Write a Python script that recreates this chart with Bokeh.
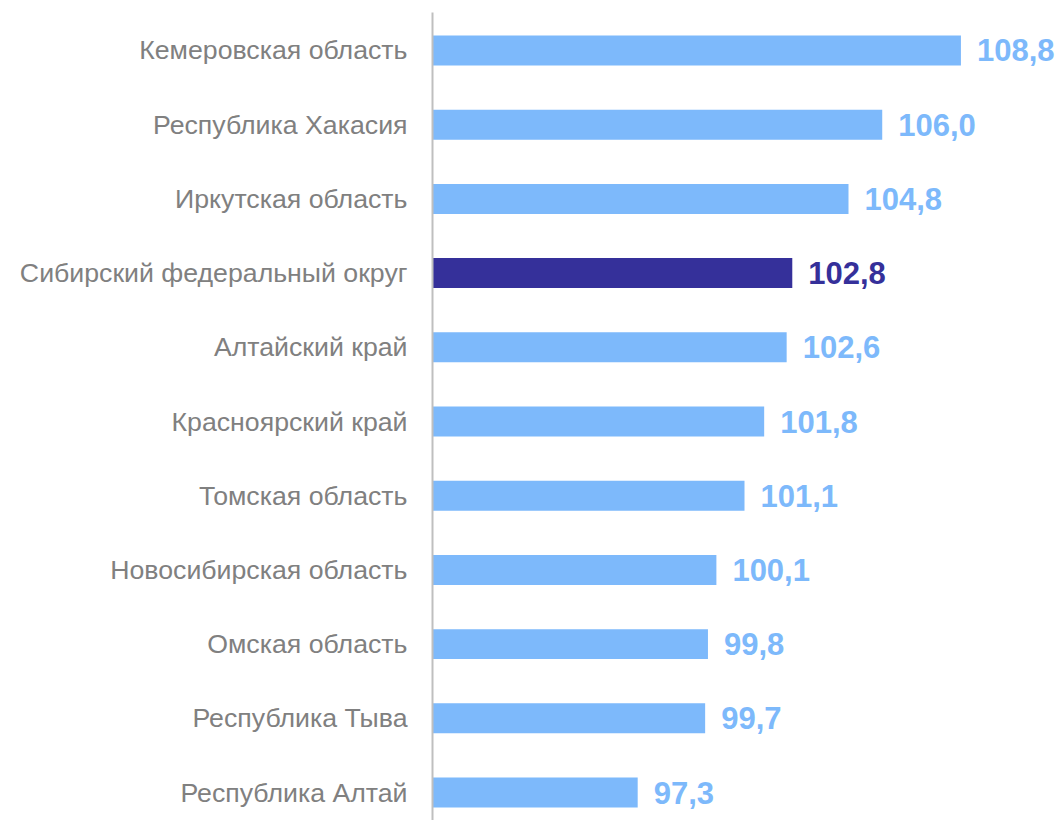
from bokeh.plotting import figure
from bokeh.models import ColumnDataSource, Range1d, FixedTicker
from bokeh.core.properties import value
from bokeh.embed import file_html
from bokeh.resources import INLINE

regions = [
    "Кемеровская область",
    "Республика Хакасия",
    "Иркутская область",
    "Сибирский федеральный округ",
    "Алтайский край",
    "Красноярский край",
    "Томская область",
    "Новосибирская область",
    "Омская область",
    "Республика Тыва",
    "Республика Алтай",
]
values = [108.8, 106.0, 104.8, 102.8, 102.6, 101.8, 101.1, 100.1, 99.8, 99.7, 97.3]
highlight = "Сибирский федеральный округ"

LIGHT = "#7DB9FB"
DARK = "#35309A"
BASE = 90

pos = list(range(len(regions)))
colors = [DARK if r == highlight else LIGHT for r in regions]
labels = [f"{v:.1f}".replace(".", ",") for v in values]
src = ColumnDataSource(dict(y=pos, v=values, c=colors, t=labels))

p = figure(width=1056, height=820, output_backend="svg", toolbar_location=None,
           x_range=Range1d(BASE, 112.2), y_range=Range1d(10.377, -0.512),
           min_border_left=432, min_border_right=0, min_border_top=12, min_border_bottom=0)

p.hbar(y="y", left=BASE, right="v", height=0.404, fill_color="c", line_color=None, source=src)
p.text(x="v", y="y", text="t", x_offset=16, text_color="c",
       text_font=value("Liberation Sans"), text_font_size="31px", text_font_style="bold",
       text_baseline="middle", text_align="left", source=src)

p.xaxis.visible = False
p.grid.visible = False
p.outline_line_color = None

ax = p.yaxis[0]
ax.ticker = FixedTicker(ticks=pos)
ax.major_label_overrides = {i: r for i, r in enumerate(regions)}
ax.axis_line_color = "#BFBFBF"
ax.axis_line_width = 2
ax.major_tick_line_color = None
ax.minor_tick_line_color = None
ax.major_label_standoff = 19
ax.major_label_text_font = "Liberation Sans"
ax.major_label_text_font_size = "26.7px"
ax.major_label_text_color = "#808080"

open("out.html", "w").write(file_html(p, INLINE))
